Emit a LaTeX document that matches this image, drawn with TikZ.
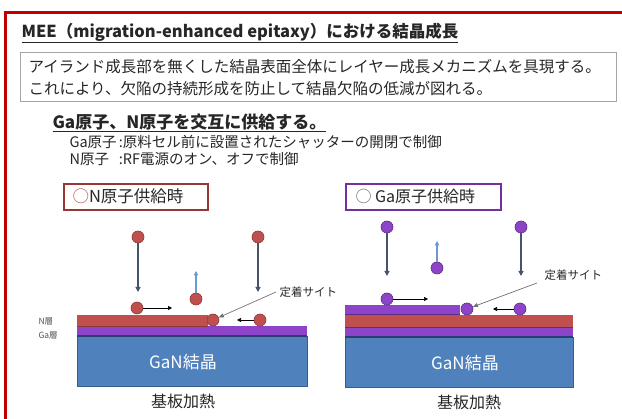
\documentclass[tikz,border=0pt]{standalone}
\usepackage{fontspec}
\setmainfont{Noto Sans CJK JP}
\usetikzlibrary{arrows.meta}
\definecolor{framered}{HTML}{C00000}
\definecolor{boxgray}{HTML}{A6A6A6}
\definecolor{txt}{HTML}{262626}
\definecolor{nboxred}{HTML}{953735}
\definecolor{gaboxpur}{HTML}{7030A0}
\definecolor{ganblue}{HTML}{4F81BD}
\definecolor{ganedge}{HTML}{385D8A}
\definecolor{nred}{HTML}{C0504D}
\definecolor{nredd}{HTML}{8C3836}
\definecolor{gapur}{HTML}{8E44C8}
\definecolor{gapurd}{HTML}{5B2C8A}
\definecolor{navy}{HTML}{2E3D70}
\definecolor{fallcol}{HTML}{44546A}
\definecolor{risecol}{HTML}{6A9BD0}
\definecolor{leadcol}{HTML}{6E6E6E}
\newcommand{\fs}[1]{\fontsize{#1}{#1}\selectfont}
\begin{document}
\begin{tikzpicture}[x=1pt,y=-1pt,
  every node/.style={text=txt},
  ratom/.style={circle, fill=nred, draw=nredd, line width=0.6pt, inner sep=0pt, minimum size=12pt},
  patom/.style={circle, fill=gapur, draw=gapurd, line width=0.6pt, inner sep=0pt, minimum size=12pt},
  fall/.style={draw=fallcol, line width=1.8pt, -{Triangle[width=5pt,length=5pt]}},
  rise/.style={draw=risecol, line width=1.3pt, -{Triangle[width=4.5pt,length=4.5pt]}},
  slide/.style={draw=black, line width=0.7pt, -{Triangle[width=4pt,length=4pt]}},
  lead/.style={draw=leadcol, line width=0.7pt, -{Triangle[width=4pt,length=5pt]}},
  sitelabel/.style={anchor=west, font=\fs{11.5}, text=txt},
  layerlabel/.style={anchor=west, font=\fs{8.5}, text=txt!80},
  gantext/.style={font=\fs{17}, text=white},
  heattext/.style={font=\fs{16}},
  modebox/.style={draw, line width=2pt, minimum height=26pt, anchor=north west, inner sep=0pt}
]
\useasboundingbox (0,0) rectangle (622,419);

% outer frame, open to the right and bottom
\draw[framered, line width=3pt] (5.5,430) -- (5.5,12.5) -- (640,12.5);

% title and summary
\node[anchor=west, font=\fs{16.5}\bfseries] (title) at (18,33) {\underline{MEE（migration-enhanced epitaxy）における結晶成長}};
\node[draw=boxgray, line width=0.8pt, anchor=north west, minimum width=596pt, minimum height=49pt] (summary) at (20,52.5) {};
\node[anchor=west, font=\fs{15.5}] (sum1) at (25,67) {アイランド成長部を無くした結晶表面全体にレイヤー成長メカニズムを具現する。};
\node[anchor=west, font=\fs{15.5}] (sum2) at (25,89) {これにより、欠陥の持続形成を防止して結晶欠陥の低減が図れる。};

% supply scheme
\node[anchor=west, font=\fs{17}\bfseries] (supply) at (49,123) {\underline{Ga原子、N原子を交互に供給する。}};
\node[anchor=west, font=\fs{14.5}] (galine) at (66,142) {\makebox[3.4em][l]{Ga原子}:原料セル前に設置されたシャッターの開閉で制御};
\node[anchor=west, font=\fs{14.5}] (nline) at (66,159) {\makebox[3.4em][l]{N原子}:RF電源のオン、オフで制御};

% mode labels
\node[modebox, draw=nboxred, minimum width=144pt] (nmode) at (63,183) {};
\node[anchor=west, font=\fs{16.5}] (nmodetext) at (69,196) {\textcolor{nred}{○}N原子供給時};
\node[modebox, draw=gaboxpur, minimum width=155pt] (gamode) at (345,183) {};
\node[anchor=west, font=\fs{16}] (gamodetext) at (352,196) {\textcolor{txt!70}{○} Ga原子供給時};

% ---------- left: N supply ----------
\fill[ganblue] (77,336) rectangle (307,386);
\draw[ganedge, line width=0.8pt] (77,336) rectangle (307,386);
\fill[gapur] (77,326) rectangle (307,336);
\draw[navy, line width=1.2pt] (77,336) -- (307,336);
\fill[nred] (77,315) rectangle (208,326);
\draw[nredd, line width=0.6pt] (77,326) -- (208,326);
\node[gantext] (ganL) at (183,362) {GaN結晶};
\node[heattext] (heatL) at (183,401) {基板加熱};
\node[layerlabel] (nlayer) at (35,321) {N層};
\node[layerlabel] (galayer) at (35,335) {Ga層};

\node[ratom] (a1) at (138,237) {};
\node[ratom] (a2) at (258,237) {};
\node[ratom] (s1) at (137,308) {};
\node[ratom] (d1) at (196,299) {};
\node[ratom] (t1) at (213,320) {};
\node[ratom] (r1) at (260,320) {};
\coordinate (a1end) at (138,292);
\coordinate (a2end) at (258,292);
\coordinate (s1end) at (172,308);
\coordinate (d1end) at (196,271);
\coordinate (r1end) at (237,320);
\draw[fall] (a1) -- (a1end);
\draw[fall] (a2) -- (a2end);
\draw[slide] (s1) -- (s1end);
\draw[rise] (d1) -- (d1end);
\draw[slide] (r1) -- (r1end);
\node[sitelabel] (siteL) at (276,292) {定着サイト};
\draw[lead] (siteL.west) -- (t1);

% ---------- right: Ga supply ----------
\fill[ganblue] (345,337) rectangle (573,387);
\draw[ganedge, line width=0.8pt] (345,337) rectangle (573,387);
\fill[gapur] (345,327) rectangle (573,337);
\draw[navy, line width=1.2pt] (345,337) -- (573,337);
\fill[nred] (345,315) rectangle (573,327);
\draw[gapurd, line width=0.8pt] (345,327) -- (573,327);
\fill[gapur] (345,305) rectangle (460,315);
\draw[gapurd, line width=1pt] (345,314.5) -- (460,314.5);
\node[gantext] (ganR) at (465,363) {GaN結晶};
\node[heattext] (heatR) at (469,402) {基板加熱};

\node[patom] (b1) at (387,227) {};
\node[patom] (b2) at (521,227) {};
\node[patom] (bs) at (387,299) {};
\node[patom] (bd) at (437,268) {};
\node[patom] (bt) at (467,309) {};
\node[patom] (br) at (520,309) {};
\coordinate (b1end) at (387,276);
\coordinate (b2end) at (521,276);
\coordinate (bsend) at (428,299);
\coordinate (bdend) at (437,241);
\coordinate (brend) at (493,309);
\draw[fall] (b1) -- (b1end);
\draw[fall] (b2) -- (b2end);
\draw[slide] (bs) -- (bsend);
\draw[rise] (bd) -- (bdend);
\draw[slide] (br) -- (brend);
\node[sitelabel] (siteR) at (541,275) {定着サイト};
\coordinate (siteRfoot) at (537,283);
\draw[lead] (siteRfoot) -- (bt);
\end{tikzpicture}
\end{document}
